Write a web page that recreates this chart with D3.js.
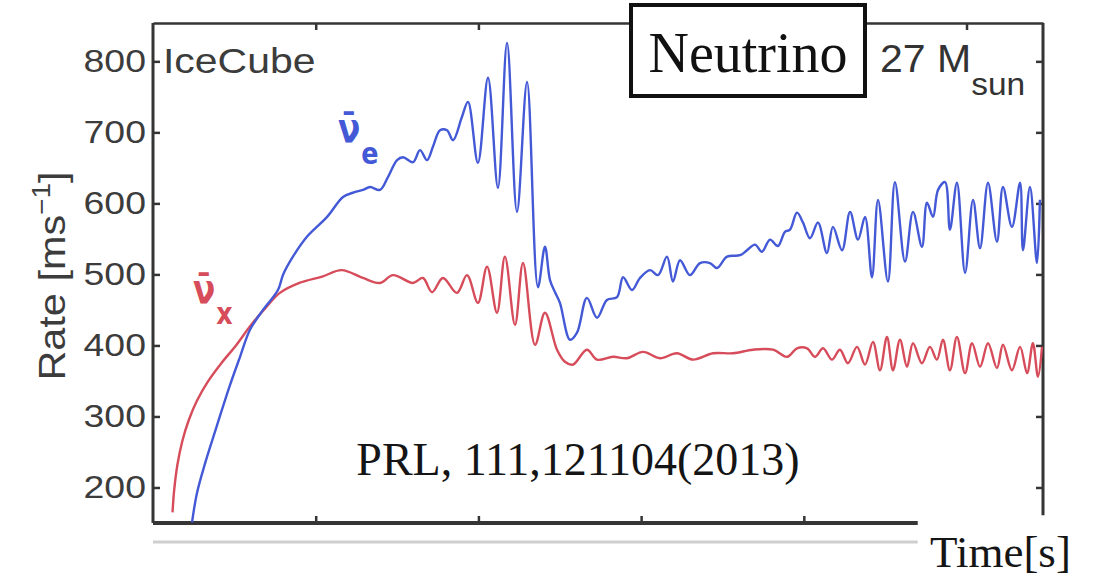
<!DOCTYPE html>
<html>
<head>
<meta charset="utf-8">
<script src="https://cdn.jsdelivr.net/npm/d3@7"></script>
<style>
  html, body { margin: 0; padding: 0; background: #fff; }
  svg { display: block; }
</style>
</head>
<body>
<svg id="chart" width="1095" height="585"></svg>
<script>
// Detected event rate in IceCube for a 27 solar-mass progenitor (time after bounce in ms)
const rateTicks = [200, 300, 400, 500, 600, 700, 800];
const timeTicks = [100, 200, 300, 400, 500];

// anti-nu_e rate [ms^-1]
const nuETime = [24, 27, 32, 39, 47, 53.5, 59.6, 67.6, 76.8, 80, 86, 94.6, 107, 116.8, 122.9, 129.1, 133.4, 139.5,
  144.4, 150, 153.7, 159.8, 164.1, 168.4, 172.1, 176.4, 180.7, 184.4, 189.9, 193.6, 199.7, 205.9, 212, 217.6,
  223.7, 229.9, 236.6, 240.9, 244, 247.1, 250.1, 256.3, 260.6, 266.7, 272.9, 279, 285.2, 288.9, 294.4, 299.3,
  305.5, 310.4, 315.9, 319.6, 323.9, 330, 336.2, 342.3, 346.6, 352.8, 360.8, 365.1, 370, 374.3, 379.2, 384.1,
  388.4, 391.5, 395.8, 399.5, 403.8, 408.7, 414.2, 417.9, 423.5, 428.4, 433.3, 437.6, 441.9, 445.6, 451.7, 456,
  462.2, 467.1, 472.6, 475.7, 479.4, 482.5, 486.8, 489.8, 494.1, 499.1, 504, 508.3, 513.2, 518.7, 522.4, 527.9,
  532.9, 534.7, 539, 543.3, 545.1];
const nuERate = [151, 192, 234, 285, 342, 384, 422, 450, 478, 500, 525, 553, 581, 609, 615, 619, 623, 619,
  637, 661, 665, 658, 675, 661, 680, 703, 703, 689, 722, 743, 657, 777, 622, 826,
  588, 771, 482, 539, 492, 475, 460, 408, 418, 467, 439, 464, 468, 496, 478, 495,
  506, 499, 525, 490, 520, 499, 516, 516, 509, 525, 527, 534, 542, 532, 549, 540,
  560, 563, 587, 573, 551, 573, 530, 567, 534, 588, 549, 581, 496, 605, 490, 630,
  518, 588, 539, 601, 581, 619, 630, 563, 629, 502, 605, 537, 629, 546, 623, 567,
  629, 534, 623, 516, 605];

// heavy-lepton anti-nu_x rate [ms^-1]
const nuXTime = [12, 13, 15, 18, 22, 27, 34, 42, 51, 60, 70, 78, 90, 104, 116, 129, 139.5,
  147.5, 159.8, 165.9, 171.5, 178.2, 186.8, 193, 199.7, 205.3, 211.4, 216.3, 222.5, 227.4, 234.8, 240.9, 248.3,
  253.2, 258.1, 266.7, 272.9, 282.7, 291.3, 301.2, 311.6, 322, 331.9, 344.2, 356.5, 368.8, 381.1, 389.7, 395.8,
  402, 406.9, 411.8, 417.3, 422.2, 427.1, 432.7, 437.6, 442.5, 446.8, 451.1, 454.8, 459.1, 463.4, 467.1, 472.6,
  477.5, 481.8, 485.5, 489.8, 494.1, 499.1, 503.4, 508.3, 513.2, 518.7, 522.4, 527.9, 532.9, 537.2, 540.8, 543.9,
  546.4];
const nuXRate = [165, 196, 232, 265, 295, 322, 350, 375, 400, 428, 455, 474, 488, 497, 506, 495, 488,
  499, 488, 495, 475, 495, 474, 499, 460, 511, 446, 525, 429, 516, 401, 446, 394,
  377, 373, 394, 380, 384, 382, 391, 382, 389, 380, 389, 389, 394, 394, 384, 396,
  396, 384, 396, 380, 394, 375, 398, 373, 405, 365, 412, 365, 408, 370, 403, 375,
  398, 380, 408, 365, 412, 361, 403, 370, 403, 368, 401, 365, 398, 361, 403, 356,
  398];

const svg = d3.select("#chart");
const x = d3.scaleLinear().domain([0, 547]).range([153, 1043]);
const y = d3.scaleLinear().domain([150, 854]).range([523, 23]);

const axisColor = "#353535";
const sans = "'Liberation Sans', Arial, Helvetica, sans-serif";
const serif = "'Liberation Serif', 'Times New Roman', serif";

// frame: top and right edges with inward ticks
svg.append("g").attr("transform", `translate(0,${y(854)})`)
  .call(d3.axisTop(x).tickValues(timeTicks).tickSizeInner(-7).tickSizeOuter(0).tickFormat(""))
  .call(g => g.selectAll("line, path").attr("stroke", axisColor).attr("stroke-width", 2.5));

const rightAxis = svg.append("g").attr("transform", `translate(${x(547)},0)`)
  .call(d3.axisRight(y).tickValues(rateTicks).tickSizeInner(-7).tickSizeOuter(0).tickFormat(""));
rightAxis.select(".domain").remove();
rightAxis.selectAll("line").attr("stroke", axisColor).attr("stroke-width", 2.5);
svg.append("line")
  .attr("x1", x(547)).attr("x2", x(547)).attr("y1", y(854)).attr("y2", y(161))
  .attr("stroke", axisColor).attr("stroke-width", 3);

// bottom axis (unlabelled) with a faint rule beneath
const bottomAxis = svg.append("g").attr("transform", `translate(0,${y(150)})`)
  .call(d3.axisBottom(x).tickValues(timeTicks.slice(0, 4)).tickSizeInner(-7).tickSizeOuter(0).tickFormat(""));
bottomAxis.select(".domain").remove();
bottomAxis.selectAll("line").attr("stroke", axisColor).attr("stroke-width", 2.5);
svg.append("line")
  .attr("x1", x(0)).attr("x2", x(470)).attr("y1", y(150)).attr("y2", y(150))
  .attr("stroke", axisColor).attr("stroke-width", 4);
svg.append("line")
  .attr("x1", x(0)).attr("x2", x(470)).attr("y1", y(150) + 19).attr("y2", y(150) + 19)
  .attr("stroke", "#cfcfcf").attr("stroke-width", 3);

// left axis with labels
const leftAxis = svg.append("g").attr("transform", `translate(${x(0)},0)`)
  .call(d3.axisLeft(y).tickValues(rateTicks).tickSizeInner(-7).tickSizeOuter(0).tickPadding(6));
leftAxis.select(".domain").attr("stroke", axisColor).attr("stroke-width", 3)
  .attr("d", `M0,${y(854)}V${y(150)}`);
leftAxis.selectAll(".tick line").attr("stroke", axisColor).attr("stroke-width", 2.5);
leftAxis.selectAll(".tick text")
  .attr("font-family", sans).attr("font-size", 32).attr("fill", "#3c3c3c")
  .attr("transform", "scale(1.17,1)");

// y-axis title
const yTitle = svg.append("text")
  .attr("transform", `translate(65,276) rotate(-90) scale(1.12,1)`)
  .attr("text-anchor", "middle")
  .attr("font-family", sans).attr("font-size", 37).attr("fill", "#3c3c3c");
yTitle.append("tspan").text("Rate [ms");
yTitle.append("tspan").attr("font-size", 25).attr("dy", -15).text("\u22121");
yTitle.append("tspan").attr("dy", 15).text("]");

// rate curves
const line = d3.line()
  .x(d => x(d[0])).y(d => y(d[1]))
  .curve(d3.curveCatmullRom.alpha(0.5));

svg.append("path")
  .datum(nuXTime.map((t, i) => [t, nuXRate[i]]))
  .attr("d", line).attr("fill", "none")
  .attr("stroke", "#d64c5a").attr("stroke-width", 2.4).attr("stroke-linejoin", "round");

svg.append("path")
  .datum(nuETime.map((t, i) => [t, nuERate[i]]))
  .attr("d", line).attr("fill", "none")
  .attr("stroke", "#4459d6").attr("stroke-width", 2.4).attr("stroke-linejoin", "round");

// in-plot annotations
svg.append("text")
  .attr("transform", "translate(163,73) scale(1.17,1)")
  .attr("font-family", sans).attr("font-size", 35).attr("fill", "#3c3c3c")
  .text("IceCube");

const greek = "'DejaVu Sans', 'Liberation Sans', sans-serif";

const blueLab = svg.append("text")
  .attr("transform", "translate(338,142) scale(0.82,1)")
  .attr("font-family", greek).attr("font-weight", "bold").attr("fill", "#4459d6");
blueLab.append("tspan").attr("font-size", 40).text("\u03BD\u0304");
blueLab.append("tspan").attr("font-size", 31).attr("dy", 22).attr("dx", 1).text("e");

const redLab = svg.append("text")
  .attr("transform", "translate(193,303) scale(0.82,1)")
  .attr("font-family", greek).attr("font-weight", "bold").attr("fill", "#d64c5a");
redLab.append("tspan").attr("font-size", 40).text("\u03BD\u0304");
redLab.append("tspan").attr("font-size", 31).attr("dy", 21).attr("dx", 1).text("x");

const mass = svg.append("text")
  .attr("transform", "translate(880,72) scale(1.08,1)")
  .attr("font-family", sans).attr("fill", "#333");
mass.append("tspan").attr("font-size", 38).text("27 M");
mass.append("tspan").attr("font-size", 31).attr("dy", 23).text("sun");

// title box
svg.append("rect")
  .attr("x", 631).attr("y", 5).attr("width", 234).attr("height", 91)
  .attr("fill", "#fff").attr("stroke", "#111").attr("stroke-width", 4);
svg.append("text")
  .attr("x", 748).attr("y", 72).attr("text-anchor", "middle")
  .attr("font-family", serif).attr("font-size", 56).attr("fill", "#111")
  .text("Neutrino");

// reference and axis name
svg.append("text")
  .attr("x", 578).attr("y", 475).attr("text-anchor", "middle")
  .attr("font-family", serif).attr("font-size", 46).attr("fill", "#151515")
  .text("PRL, 111,121104(2013)");

svg.append("text")
  .attr("x", 930).attr("y", 567)
  .attr("font-family", serif).attr("font-size", 45).attr("fill", "#151515")
  .text("Time[s]");
</script>
</body>
</html>
